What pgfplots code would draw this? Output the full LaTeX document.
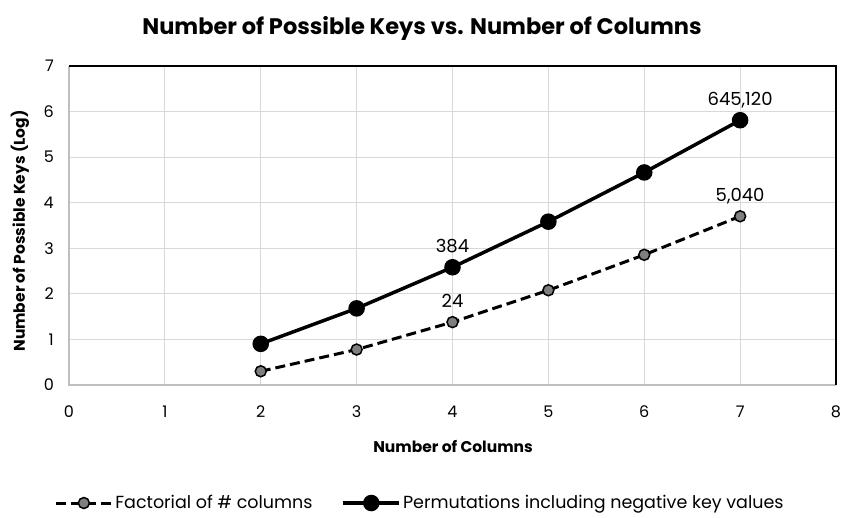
\documentclass[border=0pt]{standalone}
\usepackage{pgfplots}
\pgfplotsset{compat=1.18}
\usepackage{pgfplotstable}
\usepackage{fontspec}
\setmainfont{Poppins}
\definecolor{gridc}{HTML}{D9D9D9}
\definecolor{axc}{HTML}{BFBFBF}
\definecolor{markg}{HTML}{7F7F7F}
\pgfplotstableread{
x y lab
2 0.301 {}
3 0.778 {}
4 1.380 24
5 2.079 {}
6 2.857 {}
7 3.702 {5,040}
}\fact
\pgfplotstableread{
x y lab
2 0.903 {}
3 1.681 {}
4 2.584 384
5 3.584 {}
6 4.664 {}
7 5.810 {645,120}
}\perm
\begin{document}
\begin{tikzpicture}
\begin{axis}[
  at={(0,0)}, anchor=south west,
  scale only axis, width=767pt, height=319pt,
  xmin=0, xmax=8, ymin=0, ymax=7,
  xtick={0,...,8}, ytick={0,...,7},
  major tick length=0pt,
  grid=major,
  major grid style={gridc, line width=1.2pt},
  axis line style={draw=none},
  /pgf/number format/assume math mode=true,
  tick label style={font=\fontsize{16}{19}\selectfont},
  xticklabel style={anchor=base, inner sep=0pt, yshift=-33pt},
  yticklabel style={anchor=east, inner sep=0pt, xshift=-15pt},
  xlabel={Number of Columns},
  ylabel={Number of Possible Keys (Log)},
  xlabel style={font=\bfseries\fontsize{15.5}{18}\selectfont, at={(axis description cs:0.5007,-0.1912)}, anchor=center},
  ylabel style={font=\bfseries\fontsize{15.5}{18}\selectfont, at={(axis description cs:-0.0639,0.483)}, anchor=center},
  title={Number of Possible Keys vs. Number of Columns},
  title style={font=\bfseries\fontsize{22.5}{26}\selectfont, at={(axis description cs:0.4602,1)}, anchor=base, yshift=26pt},
  legend columns=2,
  legend style={at={(axis description cs:0.4576,-0.370)}, anchor=center, draw=none,
    font=\fontsize{17.5}{20}\selectfont,
    /tikz/every even column/.append style={column sep=27pt},
    nodes={inner sep=2pt}},
  legend image code/.code={\draw[mark repeat=2, mark phase=2, #1] plot coordinates {(0pt,0pt) (28pt,0pt) (56pt,0pt)};},
  point meta=explicit symbolic,
  nodes near coords,
  every node near coord/.append style={font=\fontsize{18}{21}\selectfont, anchor=base, inner sep=0pt, yshift=15pt, text=black},
  clip=false,
]
\addplot[black, line width=3pt, dash pattern=on 10pt off 5pt, mark=*, mark size=5.5pt,
  mark options={solid, fill=markg, draw=black, line width=1.5pt}]
  table[x=x, y=y, meta=lab] {\fact};
\addlegendentry{Factorial of \# columns}
\addplot[black, line width=3.5pt, mark=*, mark size=6.5pt, mark options={solid, fill=black}]
  table[x=x, y=y, meta=lab] {\perm};
\addlegendentry{Permutations including negative key values}
\draw[axc, line width=2.5pt] (axis description cs:0,1) -- (axis description cs:0,0) -- (axis description cs:1,0);
\draw[black, line width=2.5pt] (axis description cs:0,1) -- (axis description cs:1,1) -- (axis description cs:1,0);
\end{axis}
\pgfresetboundingbox
\useasboundingbox (-69pt,-133pt) rectangle (776pt,385pt);
\end{tikzpicture}
\end{document}
